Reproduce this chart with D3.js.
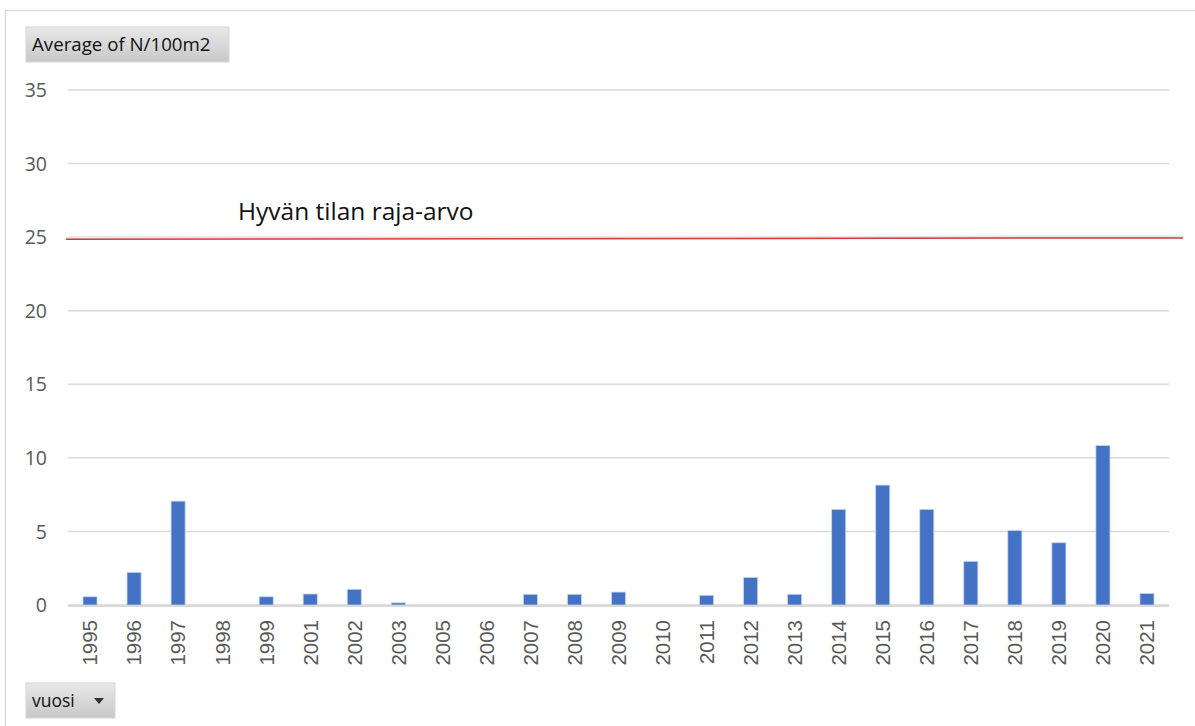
<!DOCTYPE html>
<html>
<head>
<meta charset="utf-8">
<script src="https://d3js.org/d3.v7.min.js"></script>
<style>
    body { margin: 0; background: #fff; }
    svg { display: block; }
    .grid line { stroke: #d9d9d9; stroke-width: 1.5px; }
    .tick text { fill: #595959; }
</style>
</head>
<body>
<svg width="1195" height="726"></svg>
<script>
    const years = ["1995", "1996", "1997", "1998", "1999", "2001", "2002", "2003", "2005", "2006",
        "2007", "2008", "2009", "2010", "2011", "2012", "2013", "2014", "2015", "2016",
        "2017", "2018", "2019", "2020", "2021"];
    const values = [0.56, 2.22, 7.06, 0, 0.56, 0.75, 1.07, 0.15, 0, 0,
        0.73, 0.73, 0.88, 0, 0.66, 1.88, 0.73, 6.5, 8.15, 6.5,
        2.97, 5.07, 4.23, 10.84, 0.79];
    const yTicks = [0, 5, 10, 15, 20, 25, 30, 35];
    const limitValue = [24.85, 24.95];
    const limitLabel = "Hyvän tilan raja-arvo";

    const svg = d3.select("svg");
    const plot = { left: 68, right: 1169, top: 90, bottom: 605 };

    // outer frame
    svg.append("rect")
        .attr("x", 5.5).attr("y", 10.5)
        .attr("width", 1200).attr("height", 730)
        .attr("fill", "none")
        .attr("stroke", "#d9d9d9")
        .attr("stroke-width", 1.5);

    const x = d3.scaleBand()
        .domain(years)
        .range([plot.left, plot.right])
        .paddingInner(0.68)
        .paddingOuter(0.34);

    const y = d3.scaleLinear()
        .domain([0, 35])
        .range([plot.bottom, plot.top]);

    // gridlines
    svg.append("g")
        .attr("class", "grid")
        .selectAll("line")
        .data(yTicks)
        .join("line")
        .attr("x1", plot.left).attr("x2", plot.right)
        .attr("y1", d => y(d)).attr("y2", d => y(d));

    // y axis labels
    const yAxis = svg.append("g")
        .attr("transform", `translate(${plot.left - 21},0)`)
        .call(d3.axisLeft(y).tickValues(yTicks).tickSize(0).tickPadding(0));
    yAxis.select(".domain").remove();
    yAxis.selectAll("text")
        .style("font-family", "'Open Sans', 'Noto Sans', sans-serif")
        .style("font-size", "19.5px")
        .attr("dy", "0.34em");

    // bars
    svg.append("g")
        .selectAll("rect")
        .data(values)
        .join("rect")
        .attr("x", (d, i) => x(years[i]))
        .attr("y", d => y(d))
        .attr("width", x.bandwidth())
        .attr("height", d => y(0) - y(d))
        .attr("fill", "#4472c4")
        .attr("stroke", "#c9d6ef")
        .attr("stroke-width", 0.8);

    // x axis line
    svg.append("line")
        .attr("x1", plot.left).attr("x2", plot.right)
        .attr("y1", y(0) + 1).attr("y2", y(0) + 1)
        .attr("stroke", "#d0d0d0")
        .attr("stroke-width", 1.5);

    // x axis labels
    const xAxis = svg.append("g")
        .attr("transform", `translate(0,${plot.bottom})`)
        .call(d3.axisBottom(x).tickSize(0).tickPadding(0));
    xAxis.select(".domain").remove();
    xAxis.selectAll("text")
        .style("font-family", "'Liberation Sans', Arial, sans-serif")
        .style("font-size", "20.5px")
        .attr("text-anchor", "end")
        .attr("transform", "rotate(-90)")
        .attr("x", -15)
        .attr("y", 0)
        .attr("dy", "0.36em");

    // limit line
    const xl = d3.scaleLinear().domain([0, 1]).range([66, 1183]);
    svg.append("line")
        .attr("x1", xl(0)).attr("x2", xl(1))
        .attr("y1", y(limitValue[0]) - 1.5).attr("y2", y(limitValue[1]) - 1.5)
        .attr("stroke", "#e6e6e6")
        .attr("stroke-width", 2);
    svg.append("line")
        .attr("x1", xl(0)).attr("x2", xl(1))
        .attr("y1", y(limitValue[0])).attr("y2", y(limitValue[1]))
        .attr("stroke", "#d9363e")
        .attr("stroke-width", 1.5);

    svg.append("text")
        .attr("x", 238)
        .attr("y", 220)
        .attr("fill", "#111")
        .style("font-family", "'Open Sans', 'Noto Sans', sans-serif")
        .style("font-size", "24.5px")
        .text(limitLabel);

    // pivot field buttons
    const grad = svg.append("defs").append("linearGradient")
        .attr("id", "btn").attr("x1", 0).attr("x2", 0).attr("y1", 0).attr("y2", 1);
    grad.append("stop").attr("offset", "0%").attr("stop-color", "#e8e8e8");
    grad.append("stop").attr("offset", "100%").attr("stop-color", "#c8c8c8");

    function button(bx, by, w, h, label, size) {
        const g = svg.append("g").attr("transform", `translate(${bx},${by})`);
        g.append("rect").attr("width", w).attr("height", h)
            .attr("fill", "url(#btn)").attr("stroke", "#d6d6d6");
        g.append("text")
            .attr("x", 6).attr("y", h / 2).attr("dy", "0.35em")
            .attr("fill", "#111")
            .style("font-family", "'Open Sans', 'Noto Sans', sans-serif")
            .style("font-size", size + "px")
            .text(label);
        return g;
    }

    button(26, 27, 203, 35, "Average of N/100m2", 18.7);
    const vb = button(26, 683, 89, 35, "vuosi", 17.5);
    vb.append("path")
        .attr("d", "M68,15 L78,15 L73,21 Z")
        .attr("fill", "#333");
</script>
</body>
</html>
